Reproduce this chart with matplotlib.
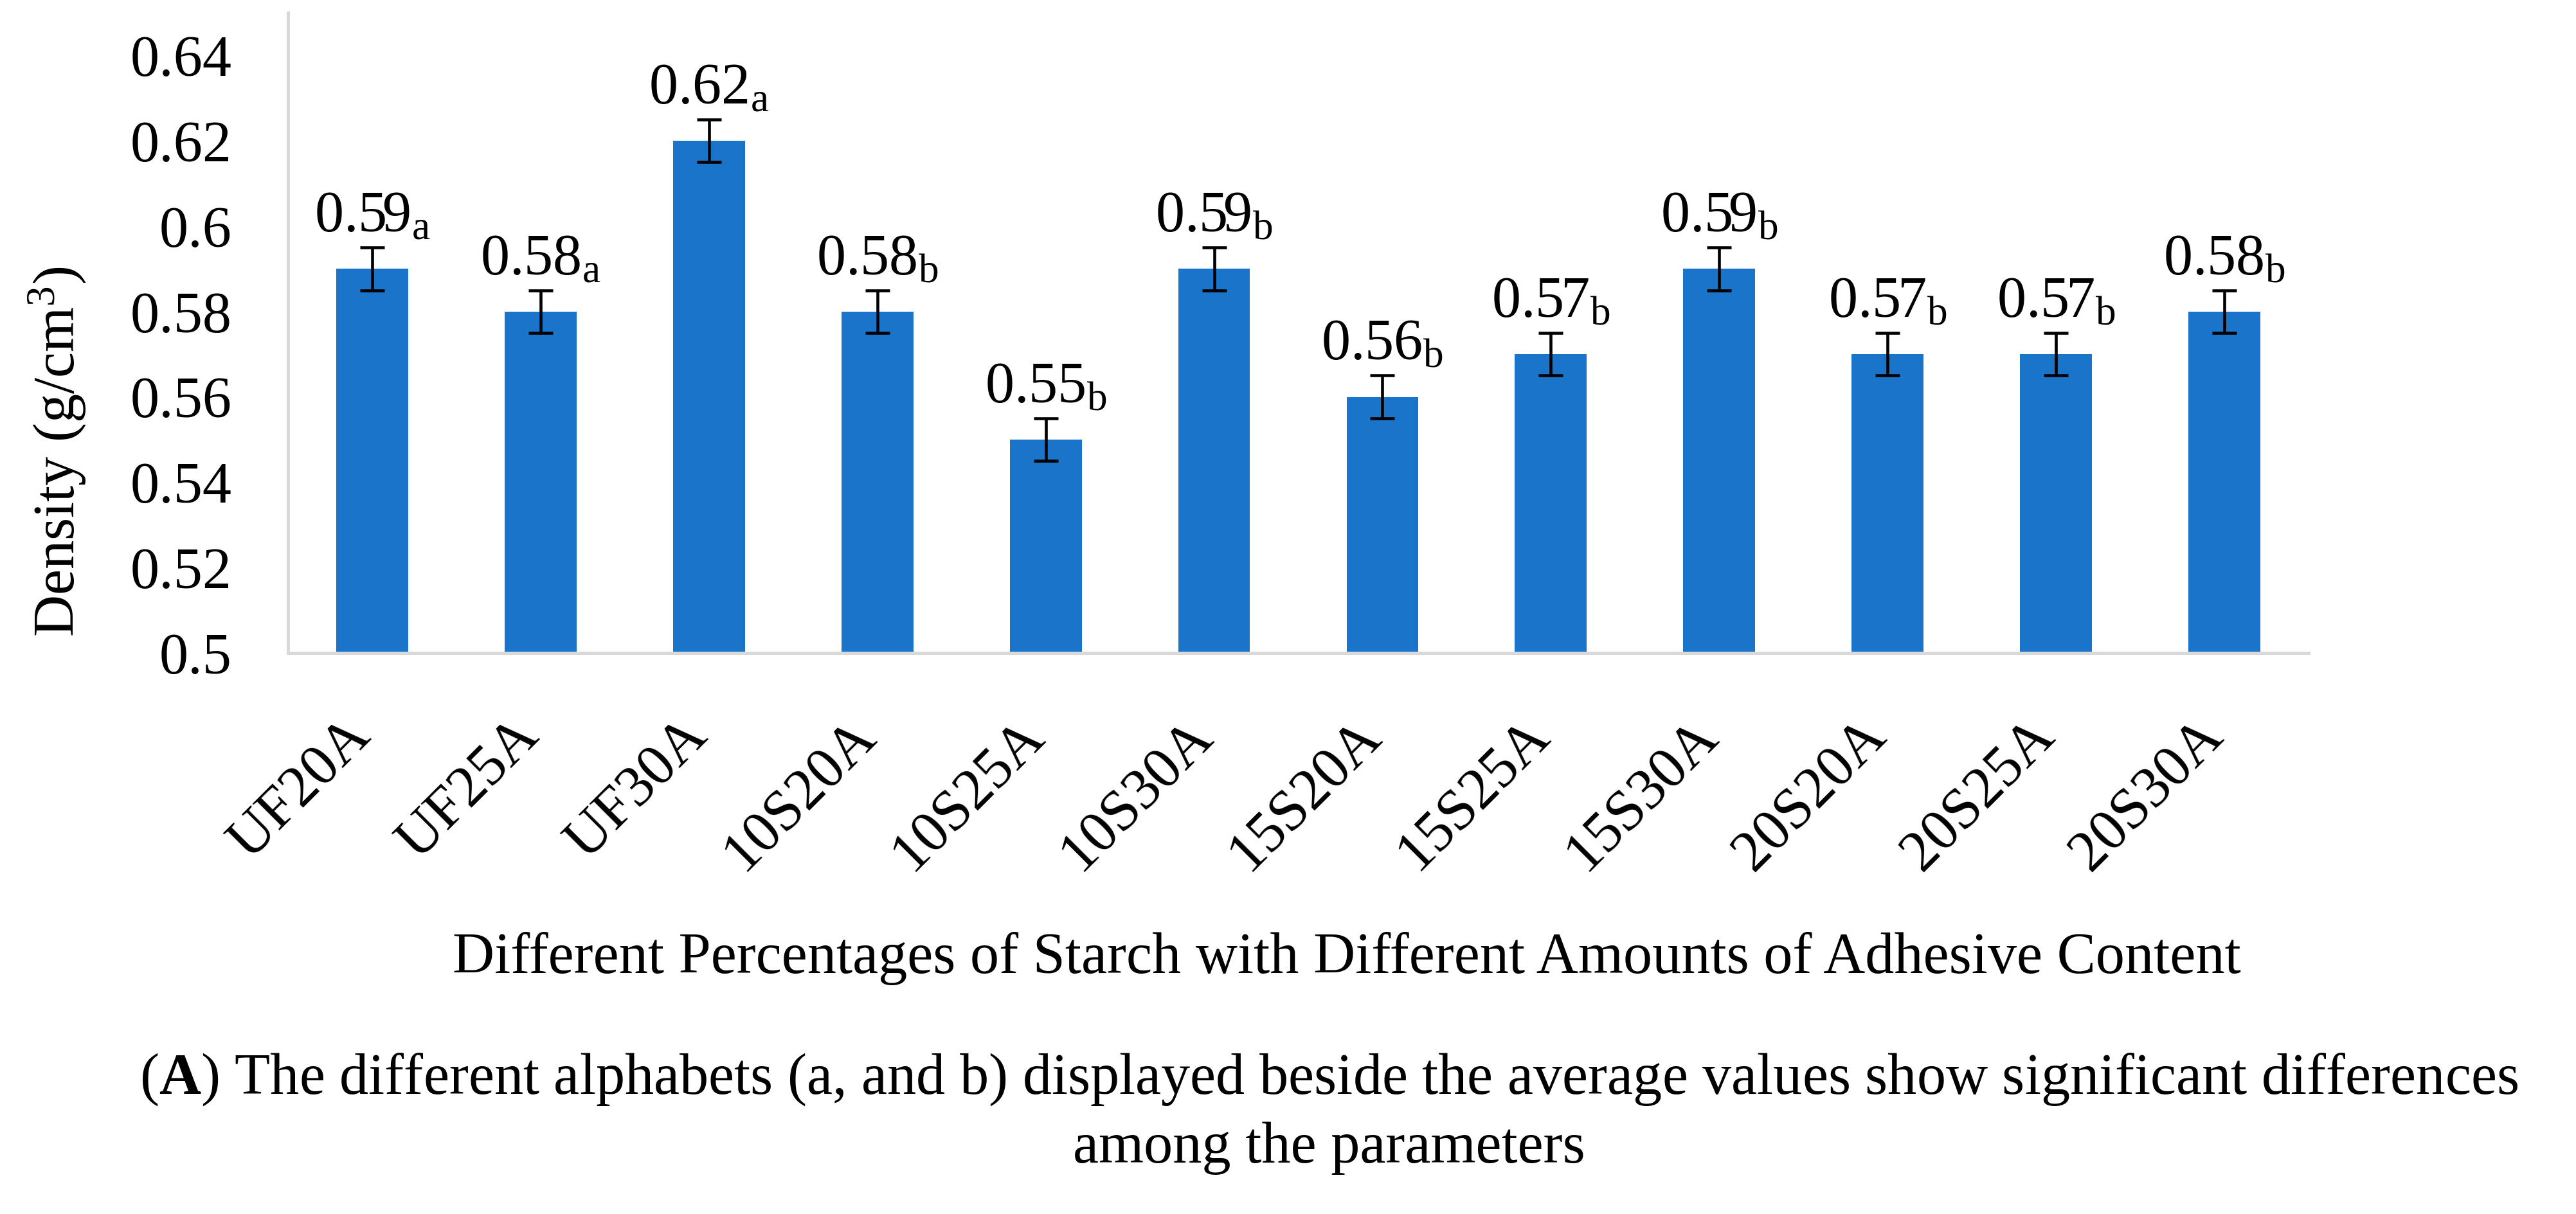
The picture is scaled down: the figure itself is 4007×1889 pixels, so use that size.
import matplotlib
matplotlib.use('Agg')
import matplotlib.pyplot as plt
import numpy as np

# DATA
samples = ['UF20A', 'UF25A', 'UF30A', '10S20A', '10S25A', '10S30A',
           '15S20A', '15S25A', '15S30A', '20S20A', '20S25A', '20S30A']
density = [0.59, 0.58, 0.62, 0.58, 0.55, 0.59, 0.56, 0.57, 0.59, 0.57, 0.57, 0.58]
errors = [0.005, 0.005, 0.005, 0.005, 0.005, 0.005, 0.005, 0.005, 0.005, 0.005, 0.005, 0.005]
groups = ['a', 'a', 'a', 'b', 'b', 'b', 'b', 'b', 'b', 'b', 'b', 'b']
yticks = [0.5, 0.52, 0.54, 0.56, 0.58, 0.6, 0.62, 0.64]
ytick_labels = ['0.5', '0.52', '0.54', '0.56', '0.58', '0.6', '0.62', '0.64']

# FONTS (Palatino-like look, closest installed serif)
plt.rcParams['font.family'] = ['Liberation Serif', 'DejaVu Serif']
plt.rcParams['mathtext.fontset'] = 'custom'
plt.rcParams['mathtext.rm'] = 'Liberation Serif'
plt.rcParams['mathtext.it'] = 'Liberation Serif:italic'
plt.rcParams['mathtext.bf'] = 'Liberation Serif:bold'
fs = 65

W, H = 4007, 1889
fig = plt.figure(figsize=(W / 100, H / 100), dpi=100)
ax = fig.add_axes([448 / W, 1 - 1016 / H, (3591 - 448) / W, (1016 - 20) / H])

x = np.arange(len(samples))
ax.bar(x, density, width=0.427, color='#1a74c9', zorder=1)
ax.errorbar(x, density, yerr=errors, fmt='none', ecolor='black',
            elinewidth=3.3, capsize=14, capthick=3.3, zorder=3)

# value labels with group letter as subscript
for xi, v, e, g in zip(x, density, errors, groups):
    ax.annotate('%.2f$_{\\mathrm{%s}}$' % (v, g), xy=(xi, v + e), xytext=(0, 18),
                textcoords='offset points', ha='center', va='baseline', fontsize=fs)

# AXES
ax.set_xlim(-0.5, len(samples) - 0.5)
ax.set_ylim(0.5, 0.65)
ax.set_yticks(yticks)
ax.set_yticklabels(ytick_labels, fontsize=fs)
ax.set_xticks(x)
ax.set_xticklabels(samples, fontsize=fs, rotation=45, ha='right', va='baseline',
                   rotation_mode='anchor')
ax.tick_params(axis='both', length=0)
ax.tick_params(axis='y', pad=63)
ax.tick_params(axis='x', pad=95)

for side in ['top', 'right']:
    ax.spines[side].set_visible(False)
for side in ['left', 'bottom']:
    ax.spines[side].set_color('#d9d9d9')
    ax.spines[side].set_linewidth(3.6)

# TEXTS
fig.text(115 / W, 1 - 703 / H, 'Density (g/cm$^{3}$)', fontsize=fs, rotation=90,
         ha='center', va='baseline', rotation_mode='anchor')
fig.text(2095 / W, 1 - 1514 / H,
         'Different Percentages of Starch with Different Amounts of Adhesive Content',
         fontsize=fs, ha='center', va='baseline')
fig.text(2067 / W, 1 - 1702 / H,
         '($\\mathbf{A}$) The different alphabets (a, and b) displayed beside the average values '
         'show significant differences', fontsize=fs, ha='center', va='baseline')
fig.text(2067 / W, 1 - 1809 / H, 'among the parameters', fontsize=fs,
         ha='center', va='baseline')

fig.savefig('out.png', dpi=100)
